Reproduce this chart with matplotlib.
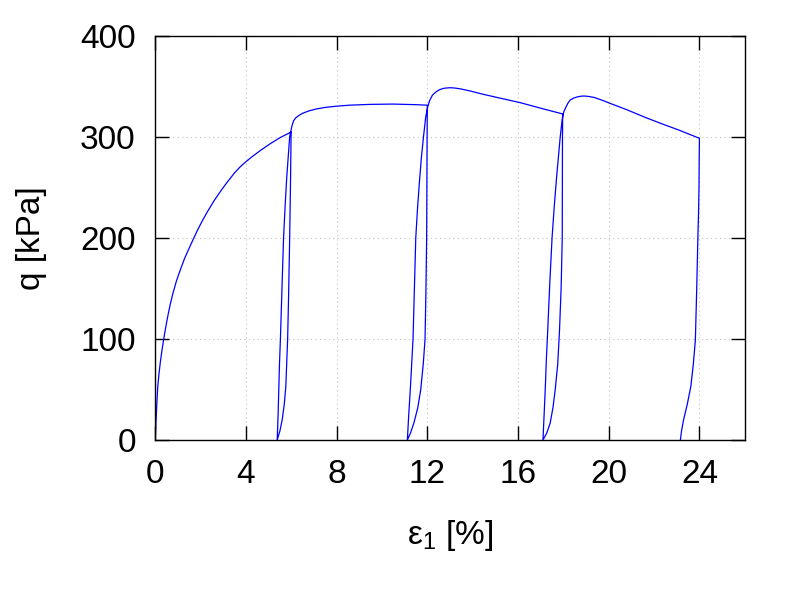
import numpy as np
import matplotlib
matplotlib.use("Agg")
import matplotlib.pyplot as plt

plt.rcParams['font.family'] = ['Liberation Sans', 'DejaVu Sans']
plt.rcParams['mathtext.fontset'] = 'custom'
plt.rcParams['mathtext.rm'] = 'Liberation Sans'
plt.rcParams['mathtext.default'] = 'regular'

# first loading
eps_load1 = [0, 0.02, 0.04, 0.07, 0.11, 0.16, 0.22, 0.3, 0.37, 0.46, 0.55, 0.66, 0.78, 0.93,
             1.1, 1.3, 1.6, 1.85, 2.1, 2.33, 2.6, 2.92, 3.2, 3.5, 3.75, 4.0, 4.3, 4.68, 5.05,
             5.5, 6.0]
q_load1 = [0, 10, 20, 35, 52, 64, 76, 89, 99, 111, 122, 134, 145, 157,
           168, 180, 195, 207, 218, 227, 237, 247.5, 256, 264.5, 270.5, 275.5, 281, 287.3, 293,
           299.3, 305]
# unload 1
eps_unl1 = [5.99, 5.97, 5.93, 5.88, 5.84, 5.8, 5.76, 5.69, 5.6, 5.5, 5.38]
q_unl1 = [300, 260, 200, 140, 100, 75, 53, 35, 20, 9, 0]
# reload 1 + plateau
eps_rel1 = [5.42, 5.45, 5.48, 5.52, 5.59, 5.66, 5.73, 5.8, 5.87, 5.93, 6.02, 6.1, 6.2, 6.35,
            6.5, 6.8, 7.1, 7.5, 8.0, 8.56, 9.5, 10.5, 11.5, 12.0]
q_rel1 = [25, 50, 75, 99, 150, 200, 232, 260, 282, 300, 310, 316, 319, 321.5,
          323.5, 326, 327.7, 329.3, 330.5, 331.5, 332.3, 332.6, 332, 331.5]
# unload 2
eps_unl2 = [11.99, 11.98, 11.97, 11.94, 11.9, 11.82, 11.71, 11.58, 11.41, 11.26, 11.12]
q_unl2 = [300, 250, 200, 150, 100, 75, 50, 32, 17, 7, 0]
# reload 2 + softening
eps_rel2 = [11.18, 11.25, 11.31, 11.37, 11.43, 11.49, 11.57, 11.65, 11.74, 11.83, 11.93, 12.02,
            12.1, 12.23, 12.4, 12.55, 12.75, 13.0, 13.2, 13.45, 13.9, 14.33, 15.2, 16.1, 17.0, 17.97]
q_rel2 = [25, 50, 75, 100, 150, 200, 230, 255, 280, 300, 320, 330,
          336, 341.6, 345, 347, 348.3, 348.8, 348.5, 347.7, 345.5, 343, 338.5, 334, 328.5, 322.8]
# unload 3
eps_unl3 = [17.96, 17.95, 17.9, 17.83, 17.75, 17.64, 17.54, 17.42, 17.27, 17.1]
q_unl3 = [300, 200, 150, 109, 75, 50, 32, 17, 7, 0]
# reload 3 + softening
eps_rel3 = [17.15, 17.2, 17.25, 17.31, 17.4, 17.5, 17.6, 17.7, 17.79, 17.86, 17.95, 18.02,
            18.1, 18.2, 18.3, 18.45, 18.6, 18.75, 18.9, 19.1, 19.35, 19.7, 20.0, 20.8, 21.6,
            22.35, 23.1, 24.0]
q_rel3 = [25, 50, 80, 109, 155, 200, 232, 260, 282, 300, 318, 325,
          329, 333.5, 336.6, 338.5, 339.6, 340.3, 340.6, 340.2, 339.2, 336.5, 333.8, 327, 319.5,
          313, 306.8, 298.7]
# final unload
eps_unl4 = [23.99, 23.98, 23.96, 23.93, 23.88, 23.82, 23.73, 23.62, 23.46, 23.3, 23.21, 23.16]
q_unl4 = [280, 250, 225, 200, 150, 99, 75, 53, 35, 20, 9, 0]

eps = np.concatenate([eps_load1, eps_unl1, eps_rel1, eps_unl2, eps_rel2, eps_unl3, eps_rel3, eps_unl4])
q = np.concatenate([q_load1, q_unl1, q_rel1, q_unl2, q_rel2, q_unl3, q_rel3, q_unl4])

fig = plt.figure(figsize=(8, 6), dpi=100)
ax = fig.add_axes([0.194, 0.2667, 0.737, 0.6733])
ax.plot(eps, q, color='#0000ff', lw=0.9)

ax.set_xlim(0, 26)
ax.set_ylim(0, 400)
ax.set_xticks(np.arange(0, 25, 4))
ax.set_yticks(np.arange(0, 401, 100))
ax.grid(True, color='#c0c0c0', linestyle=(0, (1, 3)), lw=0.8)
ax.tick_params(direction='in', length=10, width=1, top=True, right=True, labelsize=24)
ax.tick_params(axis='x', pad=14)
ax.tick_params(axis='y', pad=14)
for s in ax.spines.values():
    s.set_linewidth(1)

ax.set_xlabel('ε$_1$ [%]', fontsize=24, labelpad=20)
ax.set_ylabel('q [kPa]', fontsize=24, labelpad=24)

fig.savefig('out.png', dpi=100)
